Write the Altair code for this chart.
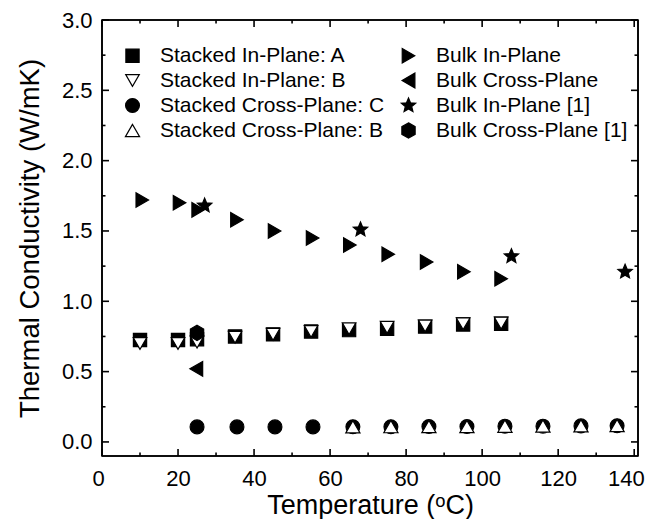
import altair as alt
import pandas as pd

FONT = "Liberation Sans"

# ---- data ----
series_names = [
    "Stacked In-Plane: A",
    "Stacked In-Plane: B",
    "Stacked Cross-Plane: C",
    "Stacked Cross-Plane: B",
    "Bulk In-Plane",
    "Bulk Cross-Plane",
    "Bulk In-Plane [1]",
    "Bulk Cross-Plane [1]",
]

a_T = [10, 20, 25, 35, 45, 55, 65, 75, 85, 95, 105]
a_k = [0.725, 0.725, 0.73, 0.75, 0.765, 0.785, 0.795, 0.805, 0.82, 0.835, 0.84]

bin_T = [10, 20, 25, 35, 45, 55, 65, 75, 85, 95, 105]
bin_k = [0.70, 0.70, 0.71, 0.745, 0.765, 0.785, 0.805, 0.815, 0.825, 0.84, 0.845]

c_T = [25, 35.5, 45.5, 55.5, 66, 76, 86, 96, 106, 116, 126, 135.5]
c_k = [0.107, 0.107, 0.107, 0.107, 0.108, 0.108, 0.11, 0.11, 0.112, 0.112, 0.114, 0.115]

bcr_T = [66, 76, 86, 96, 106, 116, 126, 135.5]
bcr_k = [0.108, 0.109, 0.11, 0.11, 0.112, 0.113, 0.115, 0.117]

bulkin_T = [10.6, 20.4, 25.3, 35.5, 45.4, 55.4, 65.2, 75.3, 85.4, 95.2, 105.0]
bulkin_k = [1.72, 1.70, 1.65, 1.58, 1.50, 1.45, 1.40, 1.335, 1.28, 1.21, 1.16]

bulkcr_T = [24.8]
bulkcr_k = [0.52]

ref_in_T = [27.0, 68.0, 107.7, 137.6]
ref_in_k = [1.68, 1.51, 1.32, 1.21]

ref_cr_T = [25.0]
ref_cr_k = [0.775]

x_domain = [0, 141]
y_domain = [-0.1, 3.0]
major_x = [0, 20, 40, 60, 80, 100, 120, 140]
minor_x = [10, 30, 50, 70, 90, 110, 130]
major_y = [0.0, 0.5, 1.0, 1.5, 2.0, 2.5, 3.0]
minor_y = [0.25, 0.75, 1.25, 1.75, 2.25, 2.75]

all_T = [a_T, bin_T, c_T, bcr_T, bulkin_T, bulkcr_T, ref_in_T, ref_cr_T]
all_k = [a_k, bin_k, c_k, bcr_k, bulkin_k, bulkcr_k, ref_in_k, ref_cr_k]

rows = []
for name, xs, ys in zip(series_names, all_T, all_k):
    for x, y in zip(xs, ys):
        rows.append({"series": name, "T": x, "k": y})
df = pd.DataFrame(rows)

# ---- styles ----
STAR = ("M0,-1L0.265,-0.364L0.951,-0.309L0.428,0.139L0.588,0.809L0,0.45"
        "L-0.588,0.809L-0.428,0.139L-0.951,-0.309L-0.265,-0.364Z")
HEX = "M0,-1L0.866,-0.5L0.866,0.5L0,1L-0.866,0.5L-0.866,-0.5Z"

style = {
    "Stacked In-Plane: A": ("square", "black", 175),
    "Stacked In-Plane: B": ("triangle-down", "white", 235),
    "Stacked Cross-Plane: C": ("circle", "black", 180),
    "Stacked Cross-Plane: B": ("triangle-up", "white", 240),
    "Bulk In-Plane": ("triangle-right", "black", 235),
    "Bulk Cross-Plane": ("triangle-left", "black", 235),
    "Bulk In-Plane [1]": (STAR, "black", 270),
    "Bulk Cross-Plane [1]": (HEX, "black", 225),
}
legend_order = series_names  # legend fills column by column
shapes = [style[s][0] for s in legend_order]
fills = [style[s][1] for s in legend_order]
sizes = [style[s][2] for s in legend_order]
strokes = ["black"] * len(legend_order)

W, H = 536, 436
MAJ, MIN = 7, 3.5
LW = 1.6

x_scale = alt.Scale(domain=x_domain, nice=False, zero=False)
y_scale = alt.Scale(domain=y_domain, nice=False, zero=False)

legend = alt.Legend(
    title=None, orient="none", legendX=20, legendY=25, columns=2,
    labelFont=FONT, labelFontSize=21, labelColor="black", labelLimit=400,
    labelOffset=17, rowPadding=3, columnPadding=13, padding=0,
    symbolStrokeColor="black", symbolStrokeWidth=1.2,
)

x_axis = alt.Axis(
    values=major_x, ticks=False, domain=False, grid=False,
    labelFont=FONT, labelFontSize=22, labelColor="black", labelPadding=12,
    labelFlush=5, labelFlushOffset=10,
    title="Temperature (ᵒC)", titleFont=FONT, titleFontSize=27,
    titleFontWeight="normal", titleColor="black", titlePadding=3,
)
y_axis = alt.Axis(
    values=major_y, format=".1f", ticks=False, domain=False, grid=False,
    labelFont=FONT, labelFontSize=22, labelColor="black", labelPadding=10,
    labelFlush=False,
    title="Thermal Conductivity (W/mK)", titleFont=FONT, titleFontSize=27.5,
    titleFontWeight="normal", titleColor="black", titlePadding=17,
)

points = alt.Chart(df).mark_point(
    filled=True, strokeWidth=1.2, opacity=1
).encode(
    x=alt.X("T:Q", scale=x_scale, axis=x_axis),
    y=alt.Y("k:Q", scale=y_scale, axis=y_axis),
    shape=alt.Shape("series:N", scale=alt.Scale(domain=legend_order, range=shapes), legend=legend),
    fill=alt.Fill("series:N", scale=alt.Scale(domain=legend_order, range=fills), legend=legend),
    stroke=alt.Stroke("series:N", scale=alt.Scale(domain=legend_order, range=strokes), legend=legend),
    size=alt.Size("series:N", scale=alt.Scale(domain=legend_order, range=sizes), legend=legend),
)


def bar_path(length, vertical):
    # thin filled bar of the given pixel length and LW thickness (unit symbol space)
    w = LW / length
    if vertical:
        return f"M{-w},-1L{w},-1L{w},1L{-w},1Z"
    return f"M-1,{-w}L1,{-w}L1,{w}L-1,{w}Z"


def x_marks(values, ypix, length):
    return alt.Chart(pd.DataFrame({"v": values})).mark_point(
        shape=bar_path(length, True), size=length * length, filled=True,
        color="black", strokeWidth=0, opacity=1,
    ).encode(
        x=alt.X("v:Q", scale=x_scale, axis=None),
        y=alt.value(ypix),
    )


def y_marks(values, xpix, length):
    return alt.Chart(pd.DataFrame({"v": values})).mark_point(
        shape=bar_path(length, False), size=length * length, filled=True,
        color="black", strokeWidth=0, opacity=1,
    ).encode(
        y=alt.Y("v:Q", scale=y_scale, axis=None),
        x=alt.value(xpix),
    )


def x_edge(ypix):
    # horizontal frame edge spanning the x domain
    return alt.Chart(pd.DataFrame({"m": [(x_domain[0] + x_domain[1]) / 2]})).mark_point(
        shape=bar_path(W, False), size=W * W, filled=True,
        color="black", strokeWidth=0, opacity=1,
    ).encode(
        x=alt.X("m:Q", scale=x_scale, axis=None),
        y=alt.value(ypix),
    )


def y_edge(xpix):
    # vertical frame edge spanning the y domain
    return alt.Chart(pd.DataFrame({"m": [(y_domain[0] + y_domain[1]) / 2]})).mark_point(
        shape=bar_path(H, True), size=H * H, filled=True,
        color="black", strokeWidth=0, opacity=1,
    ).encode(
        y=alt.Y("m:Q", scale=y_scale, axis=None),
        x=alt.value(xpix),
    )


frame_layers = [x_edge(0), x_edge(H), y_edge(0), y_edge(W)]

tick_layers = [
    x_marks(major_x, H - MAJ / 2, MAJ), x_marks(minor_x, H - MIN / 2, MIN),
    x_marks(major_x, MAJ / 2, MAJ), x_marks(minor_x, MIN / 2, MIN),
    y_marks(major_y, MAJ / 2, MAJ), y_marks(minor_y, MIN / 2, MIN),
    y_marks(major_y, W - MAJ / 2, MAJ), y_marks(minor_y, W - MIN / 2, MIN),
]

chart = alt.layer(points, *frame_layers, *tick_layers).resolve_axis(
    x="independent", y="independent"
).properties(
    width=W, height=H,
    padding={"left": 94, "top": 12, "right": 9, "bottom": 63},
    autosize=alt.AutoSizeParams(type="none"),
).configure(
    font=FONT
).configure_view(
    stroke="black", strokeWidth=LW
)

chart.save("out.html", embed_options={"renderer": "svg", "actions": False})
